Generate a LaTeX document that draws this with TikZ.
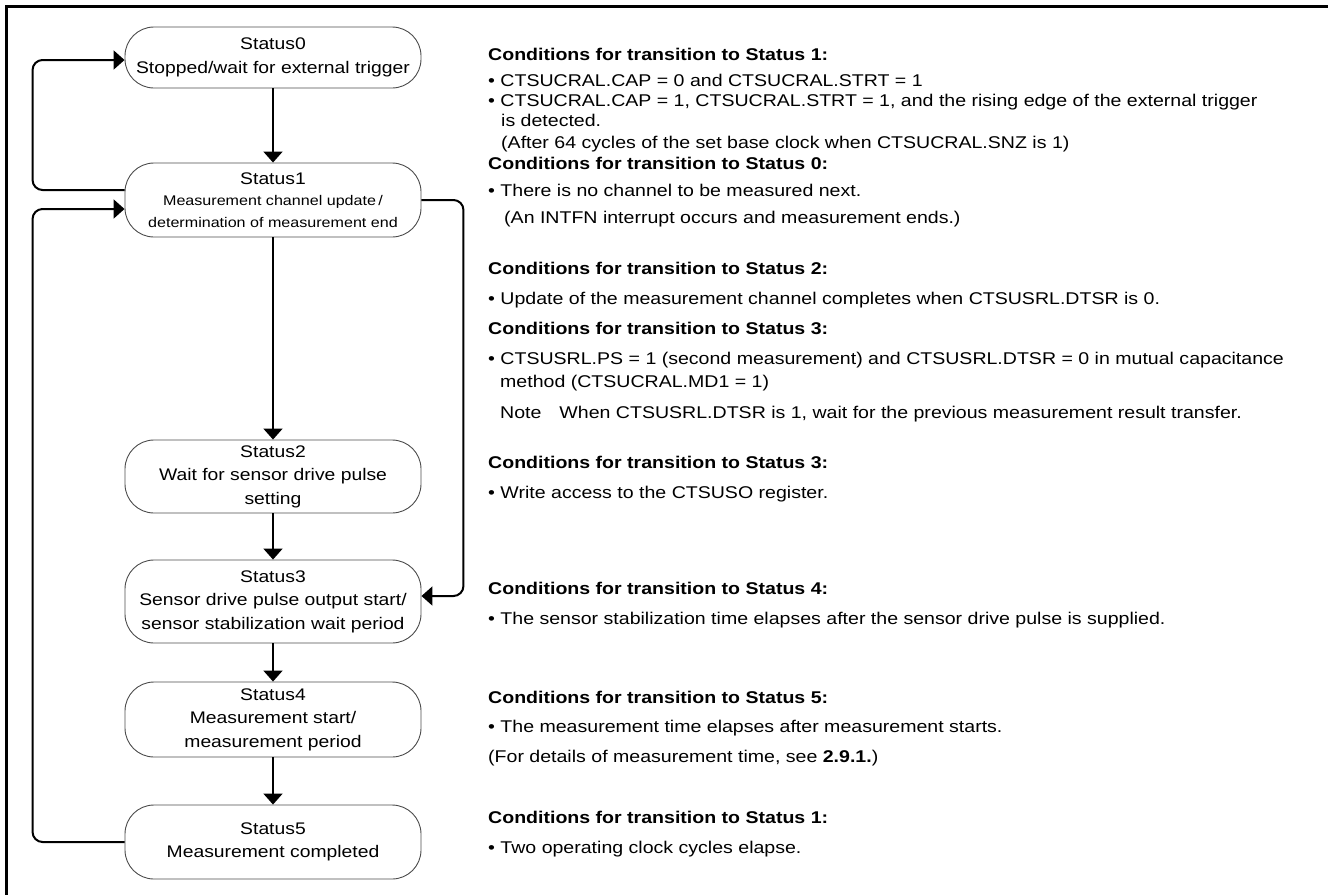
\documentclass[tikz,border=0pt]{standalone}
\usepackage{fontspec}
\setmainfont{Liberation Sans}[FakeStretch=1.15]
\usetikzlibrary{arrows.meta}
\begin{document}
\begin{tikzpicture}[x=1pt,y=-1pt,
  state/.style={draw=black!70, line width=0.9pt, rounded corners=29pt,
    minimum width=296pt, inner sep=0pt, align=center,
    font=\fontsize{16.8}{23.5}\selectfont},
  conn/.style={line width=2pt, rounded corners=10pt,
    -{Triangle[length=11pt,width=19pt]}},
  hd/.style={anchor=base west, inner sep=0pt, font=\fontsize{17}{20}\selectfont\bfseries},
  tx/.style={anchor=base west, inner sep=0pt, font=\fontsize{17}{20}\selectfont},
]
\useasboundingbox (0,0) rectangle (1328,895);
% frame (top and left edges)
\draw[line width=3pt] (1328,6.5) -- (6.5,6.5) -- (6.5,895);

% states
\node[state, minimum height=61pt] (s0) at (273,57.5)
  {Status0\\Stopped/wait for external trigger};
\node[state, minimum height=74pt, font=\fontsize{16.8}{21.5}\selectfont] (s1) at (273,200)
  {Status1\\{\fontsize{14}{21.5}\selectfont Measurement channel update\,/}\\
   {\fontsize{14}{21.5}\selectfont determination of measurement end}};
\node[state, minimum height=73pt] (s2) at (273,476.5)
  {Status2\\Wait for sensor drive pulse\\setting};
\node[state, minimum height=83pt] (s3) at (273,601.5)
  {Status3\\Sensor drive pulse output start/\\sensor stabilization wait period};
\node[state, minimum height=75pt] (s4) at (273,719.5)
  {Status4\\Measurement start/\\measurement period};
\node[state, minimum height=74pt] (s5) at (273,842)
  {Status5\\Measurement completed};

% transitions
\draw[conn] (s0) -- (s1);
\draw[conn] (s1) -- (s2);
\draw[conn] (s2) -- (s3);
\draw[conn] (s3) -- (s4);
\draw[conn] (s4) -- (s5);
\draw[conn] ([yshift=10pt]s1.west) -- ++(-92,0) |- ([yshift=-2.5pt]s0.west);
\draw[conn] (s5.west) -- ++(-92,0) |- ([yshift=-9pt]s1.west);
\draw[conn] (s1.east) -- ++(42,0) |- ([yshift=5.5pt]s3.east);

% transition conditions
\node[hd] (h1)  at (488,60)  {Conditions for transition to Status 1:};
\node[tx] (h1a) at (488,86)  {\textbullet\ CTSUCRAL.CAP = 0 and CTSUCRAL.STRT = 1};
\node[tx] (h1b) at (488,106) {\textbullet\ CTSUCRAL.CAP = 1, CTSUCRAL.STRT = 1, and the rising edge of the external trigger};
\node[tx] (h1c) at (501,126) {is detected.};
\node[tx] (h1d) at (501,148) {(After 64 cycles of the set base clock when CTSUCRAL.SNZ is 1)};

\node[hd] (h0)  at (488,169) {Conditions for transition to Status 0:};
\node[tx] (h0a) at (488,196) {\textbullet\ There is no channel to be measured next.};
\node[tx] (h0b) at (504,223) {(An INTFN interrupt occurs and measurement ends.)};

\node[hd] (h2)  at (488,274) {Conditions for transition to Status 2:};
\node[tx] (h2a) at (488,304) {\textbullet\ Update of the measurement channel completes when CTSUSRL.DTSR is 0.};

\node[hd] (h3)  at (488,334) {Conditions for transition to Status 3:};
\node[tx] (h3a) at (488,364) {\textbullet\ CTSUSRL.PS = 1 (second measurement) and CTSUSRL.DTSR = 0 in mutual capacitance};
\node[tx] (h3b) at (500,387) {method (CTSUCRAL.MD1 = 1)};
\node[tx] (h3c) at (500,418) {Note\hspace{18pt}When CTSUSRL.DTSR is 1, wait for the previous measurement result transfer.};

\node[hd] (h3x) at (488,468) {Conditions for transition to Status 3:};
\node[tx] (h3y) at (488,498) {\textbullet\ Write access to the CTSUSO register.};

\node[hd] (h4)  at (488,594) {Conditions for transition to Status 4:};
\node[tx] (h4a) at (488,624) {\textbullet\ The sensor stabilization time elapses after the sensor drive pulse is supplied.};

\node[hd] (h5)  at (488,703) {Conditions for transition to Status 5:};
\node[tx] (h5a) at (488,732) {\textbullet\ The measurement time elapses after measurement starts.};
\node[tx] (h5b) at (488,762) {(For details of measurement time, see \textbf{2.9.1.})};

\node[hd] (h6)  at (488,823) {Conditions for transition to Status 1:};
\node[tx] (h6a) at (488,853) {\textbullet\ Two operating clock cycles elapse.};
\end{tikzpicture}
\end{document}
